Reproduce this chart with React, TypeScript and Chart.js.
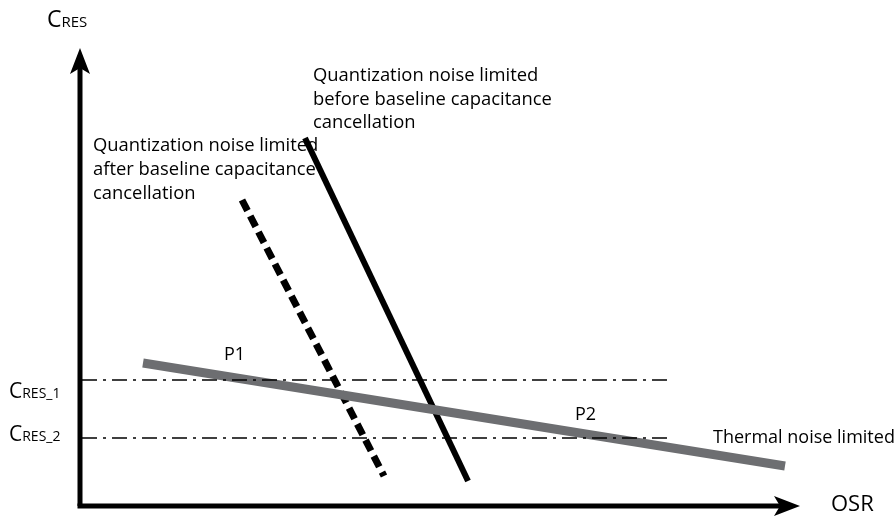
import React, { useEffect, useRef } from "react";
import { Chart, registerables } from "chart.js";

Chart.register(...registerables);

// Diagram coordinates: OSR (x) and CRES (y), origin at the axes corner
const osrThermal = [63, 705];
const cresThermal = [143, 40];
const osrBefore = [225, 388];
const cresBefore = [368, 25];
const osrAfter = [162, 304];
const cresAfter = [306, 30];
const cresLevels = [126, 68];
const levelSpan = [2, 588];
const levelLabels = ["1", "2"];
const axisXEnd = 708;
const axisYEnd = 446;

const beforeText = ["Quantization noise limited", "before baseline capacitance", "cancellation"];
const afterText = ["Quantization noise limited", "after baseline capacitance", "cancellation"];
const pointLabels = ["P1", "P2"];
const pointLabelX = [144, 495];
const pointLabelY = [151, 91];

const FONT = '"Open Sans", "Noto Sans", sans-serif';

const pts = (xs: number[], ys: number[]) => xs.map((x, i) => ({ x, y: ys[i] }));

export default function App() {
  const ref = useRef<HTMLCanvasElement | null>(null);
  useEffect(() => {
    document.body.style.margin = "0";
    const canvas = ref.current!;
    const overlay = {
      id: "overlay",
      beforeDatasetsDraw(chart: any) {
        const { ctx, scales } = chart;
        const X = (v: number) => scales.x.getPixelForValue(v);
        const Y = (v: number) => scales.y.getPixelForValue(v);
        ctx.save();
        ctx.fillStyle = "#000";
        ctx.textBaseline = "alphabetic";
        ctx.textAlign = "left";
        const small = (x: number, y: number, sub: string, big: number, sm: number) => {
          ctx.font = `${big}px ${FONT}`;
          ctx.fillText("C", x, y);
          const w = ctx.measureText("C").width;
          ctx.font = `${sm}px ${FONT}`;
          ctx.fillText("RES" + sub, x + w, y);
        };
        small(X(-33), Y(479), "", 23, 15);
        cresLevels.forEach((c, i) => small(X(-71), Y(c - 18 + i * 15), "_" + levelLabels[i], 21, 14));
        ctx.textBaseline = "middle";
        ctx.font = `22px ${FONT}`;
        ctx.fillText("OSR", X(751), Y(1));
        ctx.font = `18px ${FONT}`;
        ctx.fillText("Thermal noise limited", X(633), Y(68));
        pointLabels.forEach((t, i) => ctx.fillText(t, X(pointLabelX[i]), Y(pointLabelY[i])));
        ctx.font = `18.4px ${FONT}`;
        beforeText.forEach((t, i) => ctx.fillText(t, X(233), Y(430 - i * 23.5)));
        afterText.forEach((t, i) => ctx.fillText(t, X(13), Y(360 - i * 24)));
        ctx.restore();
      },
      afterDatasetsDraw(chart: any) {
        const { ctx, scales } = chart;
        const X = (v: number) => scales.x.getPixelForValue(v);
        const Y = (v: number) => scales.y.getPixelForValue(v);
        ctx.save();
        ctx.fillStyle = "#000";
        const ox = X(0), oy = Y(0);
        const ty = Y(axisYEnd + 12);
        ctx.beginPath();
        ctx.moveTo(ox, ty);
        ctx.lineTo(ox - 10, ty + 26);
        ctx.lineTo(ox, ty + 20);
        ctx.lineTo(ox + 10, ty + 26);
        ctx.closePath();
        ctx.fill();
        const tx = X(axisXEnd + 12);
        ctx.beginPath();
        ctx.moveTo(tx, oy);
        ctx.lineTo(tx - 26, oy - 10);
        ctx.lineTo(tx - 20, oy);
        ctx.lineTo(tx - 26, oy + 10);
        ctx.closePath();
        ctx.fill();
        ctx.restore();
      },
    };
    const chart = new Chart(canvas, {
      type: "scatter",
      data: {
        datasets: [
          ...cresLevels.map((c) => ({
            data: pts(levelSpan, [c, c]),
            showLine: true,
            borderColor: "#000",
            borderWidth: 1.6,
            borderDash: [15, 6, 3, 6],
            pointRadius: 0,
          })),
          {
            data: pts(osrThermal, cresThermal),
            showLine: true,
            borderColor: "#6d6e71",
            borderWidth: 9,
            borderCapStyle: "butt" as const,
            pointRadius: 0,
          },
          {
            data: pts(osrAfter, cresAfter),
            showLine: true,
            borderColor: "#000",
            borderWidth: 7,
            borderDash: [12, 6],
            pointRadius: 0,
          },
          {
            data: pts(osrBefore, cresBefore),
            showLine: true,
            borderColor: "#000",
            borderWidth: 6,
            pointRadius: 0,
          },
          {
            data: pts([0, 0], [axisYEnd, 0]),
            showLine: true,
            borderColor: "#000",
            borderWidth: 5,
            pointRadius: 0,
          },
          {
            data: pts([-2.5, axisXEnd], [0, 0]),
            showLine: true,
            borderColor: "#000",
            borderWidth: 5,
            pointRadius: 0,
          },
        ],
      },
      options: {
        animation: false,
        responsive: false,
        devicePixelRatio: 1,
        layout: { padding: 0 },
        plugins: { legend: { display: false }, tooltip: { enabled: false } },
        scales: {
          x: { type: "linear", display: false, min: -80, max: 816 },
          y: { type: "linear", display: false, min: -14, max: 506 },
        },
      },
      plugins: [overlay],
    });
    return () => chart.destroy();
  }, []);
  return (
    <div style={{ width: 896, height: 520, background: "#fff" }}>
      <canvas ref={ref} width={896} height={520} />
    </div>
  );
}
